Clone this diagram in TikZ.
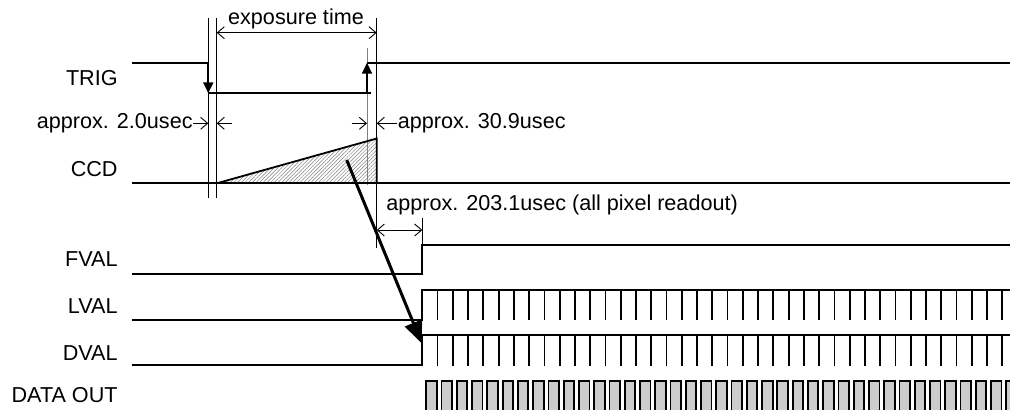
\documentclass[tikz,border=0pt]{standalone}
\usepackage{fontspec}
\setmainfont{Liberation Sans}
\usetikzlibrary{arrows.meta,patterns.meta}

\tikzset{
  sig/.style={line width=0.9pt},
  guide/.style={line width=0.45pt},
  dimboth/.style={guide, {Straight Barb[length=3.5pt,width=6pt]}-{Straight Barb[length=3.5pt,width=6pt]}},
  dimone/.style={guide, -{Straight Barb[length=3.5pt,width=6pt]}},
  trigedge/.style={sig, -{Triangle[length=5.5pt,width=5pt]}},
  signame/.style={anchor=base east, inner sep=0pt},
  remark/.style={inner sep=0pt}
}

\begin{document}
\begin{tikzpicture}[x=0.5pt, y=-0.5pt, font=\fontsize{10.8}{13}\selectfont]
  \useasboundingbox (0,0) rectangle (1010,409);
  \clip (0,0) rectangle (1010,409);

  % Signal names
  \node[signame] (trig) at (118,85) {TRIG};
  \node[signame] (ccd) at (118,176.7) {CCD};
  \node[signame] (fval) at (118,266) {FVAL};
  \node[signame] (lval) at (118,313.3) {LVAL};
  \node[signame] (dval) at (118,360) {DVAL};
  \node[signame] (dout) at (118,402.7) {DATA OUT};

  % Timing guide lines
  \draw[guide] (208.3,18) -- (208.3,198);
  \draw[guide] (216.7,18) -- (216.7,198);
  \draw[guide] (376.7,18) -- (376.7,248);
  \draw[guide, gray] (367,48) -- (367,185);
  \draw[guide] (422.3,218) -- (422.3,245);

  % Exposure time
  \draw[dimboth] (216.7,32.7) -- (376.7,32.7);
  \node[remark, anchor=base] (expo) at (296,24) {exposure time};

  % Delay marks
  \node[remark, anchor=east] (lagA) at (193,123.3) {approx. 2.0usec};
  \draw[dimone] (193,123.3) -- (208.3,123.3);
  \draw[dimone] (231.7,123.3) -- (216.7,123.3);
  \draw[dimone] (351.7,123.3) -- (367,123.3);
  \draw[dimone] (396.7,123.3) -- (376.7,123.3);
  \node[remark, anchor=west] (lagB) at (397.5,123.3) {approx. 30.9usec};

  % Readout delay
  \draw[dimboth] (376.7,230) -- (422.3,230);
  \node[remark, anchor=base west] (lagC) at (386,210) {approx. 203.1usec (all pixel readout)};

  % TRIG
  \draw[sig] (131.7,62.7) -- (208.3,62.7);
  \draw[trigedge] (208.3,62.7) -- (208.3,93.3);
  \draw[sig] (208.3,93.3) -- (370.7,93.3);
  \draw[trigedge] (367,93.3) -- (367,62.7);
  \draw[sig] (367,62.7) -- (1010,62.7);

  % CCD charge
  \fill[pattern={Lines[angle=45,distance=1.3pt,line width=0.25pt]}, pattern color=gray]
    (216.7,183.3) -- (376.7,138.5) -- (376.7,183.3) -- cycle;
  \draw[sig] (216.7,183.3) -- (376.7,138.5) -- (376.7,183.3);
  \draw[sig] (131.7,183.3) -- (1010,183.3);

  % FVAL, LVAL, DVAL
  \draw[sig] (131.7,274.3) -- (422.3,274.3) -- (422.3,245) -- (1010,245);
  \draw[sig] (131.7,320) -- (422.3,320) -- (422.3,290) -- (1010,290);
  \draw[sig] (131.7,365) -- (422.3,365) -- (422.3,335) -- (1010,335);
  \foreach \k in {1,...,38} {
    \draw[sig] ({422.3+\k*15.263},290) -- ++(0,30);
    \draw[sig] ({422.3+\k*15.263},335) -- ++(0,31);
  }

  % DATA OUT
  \foreach \k in {0,...,38}
    \filldraw[sig, fill=black!20] ({426.3+\k*15.263},380.7) rectangle ++(10.5,40);

  % Transfer to readout
  \draw[line width=1.5pt, -{Triangle[length=11pt,width=9pt]}] (346.7,160) -- (421.7,343.3);
\end{tikzpicture}
\end{document}
